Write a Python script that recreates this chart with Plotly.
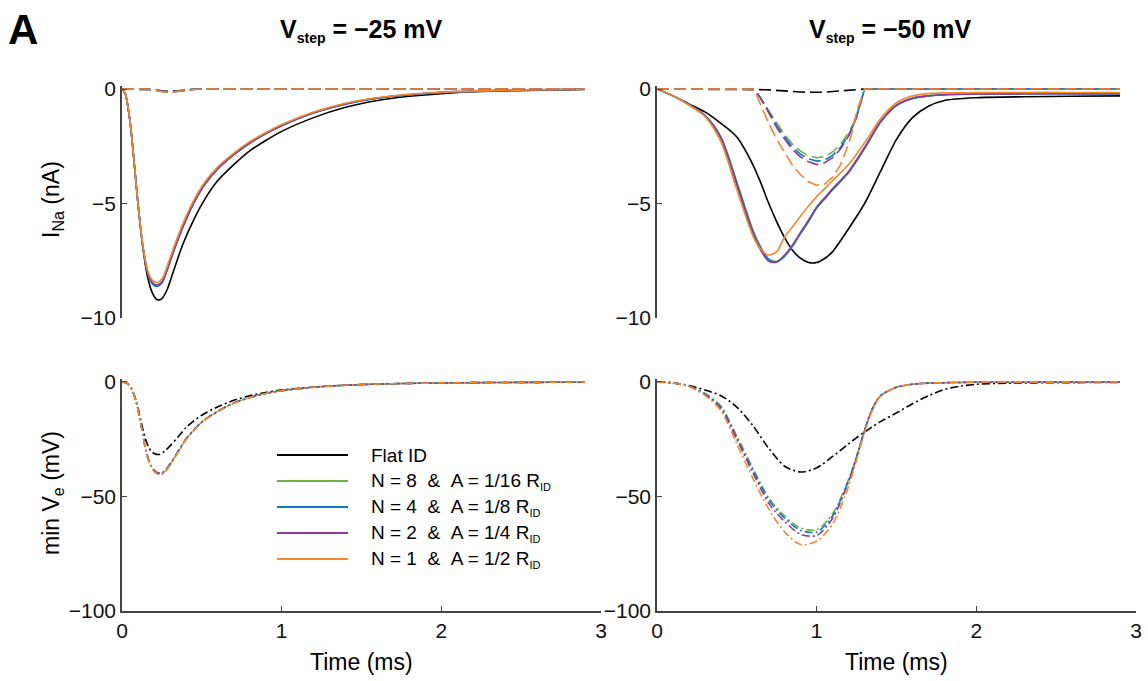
import plotly.graph_objects as go

# ---------------- DATA ----------------
# Top-left panel: I_Na (nA), Vstep = -25 mV, solid lines
t_tl = [0, 0.02, 0.05, 0.08, 0.1, 0.13, 0.16, 0.19, 0.22, 0.25, 0.28, 0.32, 0.38, 0.45, 0.52,
        0.6, 0.7, 0.8, 0.9, 1.0, 1.2, 1.4, 1.6, 1.8, 2.0, 2.3, 2.6, 2.9]
tl_flat = [0, -0.2, -1.4, -3.5, -5.0, -6.9, -8.2, -8.9, -9.2, -9.15, -8.8, -8.0, -6.8, -5.7, -4.8,
           -4.0, -3.3, -2.7, -2.25, -1.85, -1.25, -0.8, -0.5, -0.32, -0.2, -0.1, -0.05, -0.02]
tl_n8 = [0, -0.2, -1.4, -3.5, -5.0, -6.85, -8.0, -8.5, -8.6, -8.45, -7.95, -7.15, -6.05, -4.97, -4.15,
         -3.48, -2.87, -2.36, -1.95, -1.6, -1.04, -0.65, -0.4, -0.25, -0.15, -0.08, -0.03, -0.01]
tl_n4 = [0, -0.2, -1.4, -3.5, -5.0, -6.85, -8.0, -8.5, -8.62, -8.47, -7.97, -7.16, -6.06, -4.98, -4.16,
         -3.49, -2.88, -2.37, -1.96, -1.61, -1.05, -0.66, -0.4, -0.25, -0.15, -0.08, -0.03, -0.01]
tl_n2 = [0, -0.2, -1.4, -3.5, -5.0, -6.83, -7.97, -8.45, -8.56, -8.42, -7.92, -7.12, -6.02, -4.95, -4.13,
         -3.47, -2.86, -2.35, -1.94, -1.59, -1.03, -0.64, -0.39, -0.24, -0.14, -0.07, -0.03, -0.01]
tl_n1 = [0, -0.2, -1.4, -3.5, -5.0, -6.8, -7.9, -8.35, -8.45, -8.3, -7.8, -7.0, -5.9, -4.85, -4.05,
         -3.4, -2.8, -2.3, -1.9, -1.55, -1.0, -0.62, -0.38, -0.23, -0.14, -0.07, -0.03, -0.01]

# Top-left panel, dashed lines
t_tld = [0, 0.15, 0.2, 0.25, 0.3, 0.35, 0.4, 0.45, 0.5, 2.9]
tld_flat = [0, 0, -0.03, -0.08, -0.1, -0.08, -0.04, -0.01, 0, 0]
tld_n8 = [0, 0, -0.04, -0.1, -0.13, -0.1, -0.05, -0.01, 0, 0]
tld_n4 = [0, 0, -0.04, -0.1, -0.13, -0.1, -0.05, -0.01, 0, 0]
tld_n2 = [0, 0, -0.05, -0.11, -0.14, -0.11, -0.05, -0.02, 0, 0]
tld_n1 = [0, 0, -0.05, -0.12, -0.15, -0.12, -0.06, -0.02, 0, 0]

# Top-right panel: I_Na (nA), Vstep = -50 mV, solid lines
t_tr = [0, 0.1, 0.2, 0.3, 0.4, 0.5, 0.6, 0.65, 0.7, 0.75, 0.8, 0.85, 0.9, 0.95, 1.0, 1.05,
        1.1, 1.2, 1.3, 1.4, 1.5, 1.6, 1.7, 1.8, 2.0, 2.3, 2.6, 2.9]
tr_flat = [0, -0.3, -0.65, -1.0, -1.5, -2.1, -3.3, -4.1, -5.0, -5.8, -6.5, -7.05, -7.4, -7.58, -7.58, -7.4,
           -7.1, -6.1, -5.0, -3.6, -2.2, -1.25, -0.75, -0.5, -0.38, -0.34, -0.32, -0.3]
tr_n8 = [0, -0.3, -0.68, -1.15, -2.1, -4.05, -6.15, -6.9, -7.42, -7.52, -7.28, -6.83, -6.28, -5.75, -5.18, -4.78,
         -4.38, -3.63, -2.58, -1.43, -0.7, -0.4, -0.3, -0.25, -0.22, -0.21, -0.2, -0.2]
tr_n4 = [0, -0.3, -0.68, -1.15, -2.1, -4.1, -6.2, -6.95, -7.45, -7.55, -7.3, -6.85, -6.3, -5.78, -5.2, -4.8,
         -4.4, -3.65, -2.6, -1.45, -0.72, -0.42, -0.3, -0.25, -0.22, -0.21, -0.2, -0.2]
tr_n2 = [0, -0.3, -0.69, -1.17, -2.15, -4.2, -6.3, -7.05, -7.52, -7.55, -7.25, -6.8, -6.25, -5.72, -5.15, -4.75,
         -4.35, -3.6, -2.55, -1.42, -0.7, -0.4, -0.3, -0.25, -0.22, -0.21, -0.2, -0.2]
tr_n1 = [0, -0.3, -0.7, -1.2, -2.3, -4.4, -6.4, -7.0, -7.25, -7.1, -6.45, -6.0, -5.55, -5.1, -4.7, -4.35,
         -4.0, -3.3, -2.35, -1.3, -0.6, -0.3, -0.2, -0.17, -0.16, -0.15, -0.15, -0.15]

# Top-right panel, dashed lines
t_trd = [0, 0.6, 0.625, 0.65, 0.675, 0.7, 0.75, 0.8, 0.85, 0.9, 0.95, 1.0, 1.05, 1.1, 1.15, 1.2,
         1.225, 1.25, 1.275, 1.3, 2.9]
trd_flat = [0, 0, -0.01, -0.02, -0.03, -0.04, -0.07, -0.09, -0.11, -0.13, -0.14, -0.15, -0.14, -0.11,
            -0.08, -0.05, -0.04, -0.02, -0.01, 0, 0]
trd_n8 = [0, 0, -0.15, -0.38, -0.66, -0.95, -1.5, -2.0, -2.42, -2.72, -2.92, -3.0, -2.95, -2.75,
          -2.42, -1.9, -1.58, -1.15, -0.6, 0, 0]
trd_n4 = [0, 0, -0.16, -0.4, -0.7, -1.0, -1.6, -2.1, -2.55, -2.85, -3.05, -3.15, -3.1, -2.9,
          -2.55, -2.0, -1.65, -1.2, -0.62, 0, 0]
trd_n2 = [0, 0, -0.17, -0.42, -0.73, -1.05, -1.68, -2.2, -2.65, -2.97, -3.18, -3.3, -3.22, -3.0,
          -2.62, -2.05, -1.68, -1.22, -0.63, 0, 0]
trd_n1 = [0, 0, -0.3, -0.7, -1.1, -1.5, -2.2, -2.8, -3.35, -3.75, -4.05, -4.2, -4.15, -3.85,
          -3.3, -2.4, -1.8, -1.0, -0.45, 0, 0]

# Bottom-left panel: min Ve (mV), Vstep = -25 mV, dash-dot lines
t_bl = [0, 0.03, 0.06, 0.09, 0.12, 0.15, 0.18, 0.21, 0.24, 0.27, 0.3, 0.35, 0.4, 0.45, 0.5,
        0.6, 0.7, 0.8, 0.9, 1.0, 1.2, 1.4, 1.6, 1.8, 2.0, 2.4, 2.9]
bl_flat = [0, -0.5, -3.0, -8.5, -17.5, -25.5, -30.0, -31.5, -31.5, -30.0, -28.0, -24.0, -20.0, -17.0, -14.5,
           -10.8, -8.0, -6.0, -4.6, -3.5, -2.2, -1.4, -0.9, -0.6, -0.4, -0.2, -0.1]
bl_n8 = [0, -0.5, -3.0, -9.0, -19.0, -30.0, -36.3, -39.0, -39.8, -38.6, -35.8, -30.3, -24.9, -20.9, -17.4,
         -12.7, -9.2, -6.8, -5.0, -3.8, -2.3, -1.4, -0.9, -0.6, -0.4, -0.2, -0.1]
bl_n4 = [0, -0.5, -3.0, -9.0, -19.0, -30.0, -36.5, -39.2, -40.0, -38.8, -36.0, -30.5, -25.0, -21.0, -17.5,
         -12.8, -9.2, -6.8, -5.0, -3.8, -2.3, -1.4, -0.9, -0.6, -0.4, -0.2, -0.1]
bl_n2 = [0, -0.5, -3.0, -9.0, -19.1, -30.1, -36.6, -39.4, -40.2, -39.0, -36.2, -30.6, -25.1, -21.0, -17.5,
         -12.8, -9.2, -6.8, -5.0, -3.8, -2.3, -1.4, -0.9, -0.6, -0.4, -0.2, -0.1]
bl_n1 = [0, -0.5, -3.0, -9.1, -19.3, -30.3, -36.8, -39.7, -40.5, -39.3, -36.4, -30.8, -25.2, -21.1, -17.6,
         -12.9, -9.3, -6.8, -5.0, -3.8, -2.3, -1.4, -0.9, -0.6, -0.4, -0.2, -0.1]

# Bottom-right panel: min Ve (mV), Vstep = -50 mV, dash-dot lines
t_br = [0, 0.1, 0.2, 0.3, 0.4, 0.5, 0.6, 0.7, 0.8, 0.9, 1.0, 1.1, 1.2, 1.25, 1.3, 1.35, 1.4,
        1.5, 1.6, 1.7, 1.8, 1.9, 2.0, 2.2, 2.5, 2.9]
br_flat = [0, -0.4, -1.5, -3.5, -6.0, -11.0, -19.0, -29.0, -36.8, -39.3, -37.5, -32.5, -27.0, -24.3, -21.8, -19.5, -17.3,
           -13.5, -9.5, -6.0, -3.3, -1.8, -1.0, -0.5, -0.3, -0.2]
br_n8 = [0, -0.4, -1.8, -5.0, -10.5, -23.5, -37.5, -50.5, -58.5, -63.8, -64.5, -57.5, -42.5, -32.5, -21.0, -11.5, -6.0,
         -2.3, -1.0, -0.5, -0.3, -0.2, -0.1, -0.1, -0.05, 0]
br_n4 = [0, -0.4, -1.9, -5.2, -11.0, -24.5, -38.5, -51.5, -59.5, -64.8, -65.5, -58.5, -43.0, -32.8, -21.0, -11.5, -6.0,
         -2.3, -1.0, -0.5, -0.3, -0.2, -0.1, -0.1, -0.05, 0]
br_n2 = [0, -0.4, -1.9, -5.3, -11.5, -25.0, -39.5, -53.0, -61.0, -66.5, -67.0, -59.5, -43.5, -33.0, -21.3, -11.5, -6.0,
         -2.3, -1.0, -0.5, -0.3, -0.2, -0.1, -0.1, -0.05, 0]
br_n1 = [0, -0.4, -2.0, -5.8, -12.5, -27.0, -42.0, -55.5, -65.5, -71.0, -69.5, -62.0, -45.5, -34.0, -22.0, -12.0, -6.2,
         -2.3, -1.0, -0.5, -0.3, -0.2, -0.1, -0.1, -0.05, 0]

series_names = ["Flat ID",
                "N = 8  &  A = 1/16 R<sub><span style='font-size:11px'>ID</span></sub>",
                "N = 4  &  A = 1/8 R<sub><span style='font-size:11px'>ID</span></sub>",
                "N = 2  &  A = 1/4 R<sub><span style='font-size:11px'>ID</span></sub>",
                "N = 1  &  A = 1/2 R<sub><span style='font-size:11px'>ID</span></sub>"]
colors = ["#000000", "#6DB33F", "#0A7BC1", "#8B3B9E", "#F7862A"]

panel_titles = ["V<sub><span style='font-size:14px'>step</span></sub> = \u221225 mV",
                "V<sub><span style='font-size:14px'>step</span></sub> = \u221250 mV"]
ytitle_top = "I<sub>Na</sub> (nA)"
ytitle_bottom = "min V<sub>e</sub> (mV)"
xtitle = "Time (ms)"
panel_label = "A"

# ---------------- FIGURE ----------------
W, H = 1148, 681
FONT = "Liberation Sans, Arial, sans-serif"


def px_x(p):
    return p / W


def px_y(p):
    return 1 - p / H


fig = go.Figure()

top_left_solid = [tl_flat, tl_n8, tl_n4, tl_n2, tl_n1]
top_left_dash = [tld_flat, tld_n8, tld_n4, tld_n2, tld_n1]
top_right_solid = [tr_flat, tr_n8, tr_n4, tr_n2, tr_n1]
top_right_dash = [trd_flat, trd_n8, trd_n4, trd_n2, trd_n1]
bot_left = [bl_flat, bl_n8, bl_n4, bl_n2, bl_n1]
bot_right = [br_flat, br_n8, br_n4, br_n2, br_n1]

LW = 1.6
DASH = "12px,5px"
DASHDOT = "8px,3px,2px,3px"


def add(t, y, color, dash, xa, ya, name, shape="spline"):
    line = dict(color=color, width=LW, dash=dash, shape=shape)
    if shape == "spline":
        line["smoothing"] = 0.8
    fig.add_trace(go.Scatter(x=t, y=y, mode="lines", name=name, showlegend=False,
                             line=line, xaxis=xa, yaxis=ya, hoverinfo="skip"))


for i in range(5):
    add(t_tl, top_left_solid[i], colors[i], "solid", "x", "y", series_names[i])
for i in range(5):
    add(t_tld, top_left_dash[i], colors[i], DASH, "x", "y", series_names[i], "linear")
for i in range(5):
    add(t_tr, top_right_solid[i], colors[i], "solid", "x2", "y2", series_names[i])
for i in range(5):
    add(t_trd, top_right_dash[i], colors[i], DASH, "x2", "y2", series_names[i], "linear")
for i in range(5):
    add(t_bl, bot_left[i], colors[i], DASHDOT, "x3", "y3", series_names[i])
for i in range(5):
    add(t_br, bot_right[i], colors[i], DASHDOT, "x4", "y4", series_names[i])

LEFT = [px_x(122), px_x(601)]
RIGHT = [px_x(657), px_x(1136)]
TOP = [px_y(318), px_y(89 - 0.15 * 22.9)]
BOT = [px_y(611), px_y(382 - 1.5 * 2.29)]

axis_common = dict(showgrid=False, zeroline=False, linecolor="#444444", linewidth=1.5,
                   tickcolor="#444444", ticklen=5, tickwidth=1.2, ticks="inside",
                   automargin=False,
                   tickfont=dict(family=FONT, size=21, color="#111111"))

xhidden = dict(showgrid=False, zeroline=False, showline=False, showticklabels=False,
               ticks="", range=[0, 3], automargin=False)
xshown = dict(axis_common, showline=True, range=[0, 3], tickvals=[0, 1, 2, 3],
              ticktext=["0", "1", "2", "3"])
ytop = dict(axis_common, showline=True, range=[-10, 0.15], tickvals=[0, -5, -10],
            ticktext=["0", "\u22125", "\u221210"])
ybot = dict(axis_common, showline=True, range=[-100, 1.5], tickvals=[0, -50, -100],
            ticktext=["0", "\u221250", "\u2212100"])

fig.update_layout(
    template="none",
    width=W, height=H,
    margin=dict(l=0, r=0, t=0, b=0, pad=0, autoexpand=False),
    paper_bgcolor="white", plot_bgcolor="white",
    showlegend=False,
    xaxis=dict(xhidden, domain=LEFT, anchor="y"),
    yaxis=dict(ytop, domain=TOP, anchor="x"),
    xaxis2=dict(xhidden, domain=RIGHT, anchor="y2"),
    yaxis2=dict(ytop, domain=TOP, anchor="x2"),
    xaxis3=dict(xshown, domain=LEFT, anchor="y3"),
    yaxis3=dict(ybot, domain=BOT, anchor="x3"),
    xaxis4=dict(xshown, domain=RIGHT, anchor="y4"),
    yaxis4=dict(ybot, domain=BOT, anchor="x4"),
)

ann = []
# panel label
ann.append(dict(text="<b>" + panel_label + "</b>", x=px_x(6), y=px_y(29), xref="paper", yref="paper",
                xanchor="left", yanchor="middle", showarrow=False,
                font=dict(family=FONT, size=42, color="black")))
# column titles
for cx, title in zip([361, 890], panel_titles):
    ann.append(dict(text="<b>" + title + "</b>", x=px_x(cx), y=px_y(30), xref="paper", yref="paper",
                    xanchor="center", yanchor="middle", showarrow=False,
                    font=dict(family=FONT, size=25, color="black")))
# y titles
ann.append(dict(text=ytitle_top, x=px_x(52), y=px_y(200), xref="paper", yref="paper",
                xanchor="center", yanchor="middle", textangle=-90, showarrow=False,
                font=dict(family=FONT, size=23, color="black")))
ann.append(dict(text=ytitle_bottom, x=px_x(52), y=px_y(493), xref="paper", yref="paper",
                xanchor="center", yanchor="middle", textangle=-90, showarrow=False,
                font=dict(family=FONT, size=23, color="black")))
# x titles
for cx in [361, 896]:
    ann.append(dict(text=xtitle, x=px_x(cx), y=px_y(662), xref="paper", yref="paper",
                    xanchor="center", yanchor="middle", showarrow=False,
                    font=dict(family=FONT, size=23, color="black")))

# legend (inside bottom-left panel)
shapes = []
rows = [455, 481, 507, 533, 559]
for i, ry in enumerate(rows):
    shapes.append(dict(type="line", xref="paper", yref="paper", x0=px_x(277), x1=px_x(348),
                       y0=px_y(ry), y1=px_y(ry), line=dict(color=colors[i], width=1.8)))
    ann.append(dict(text=series_names[i].replace("  ", "\u00a0\u00a0"), x=px_x(369), y=px_y(ry),
                    xref="paper", yref="paper", xanchor="left", yanchor="middle", showarrow=False,
                    font=dict(family=FONT, size=19, color="black")))

fig.update_layout(annotations=ann, shapes=shapes)

fig.write_html("out.html", config={"displayModeBar": False},
               post_script="document.body.style.margin='0px';document.body.style.padding='0px';"
                           "document.documentElement.style.overflow='hidden';")
